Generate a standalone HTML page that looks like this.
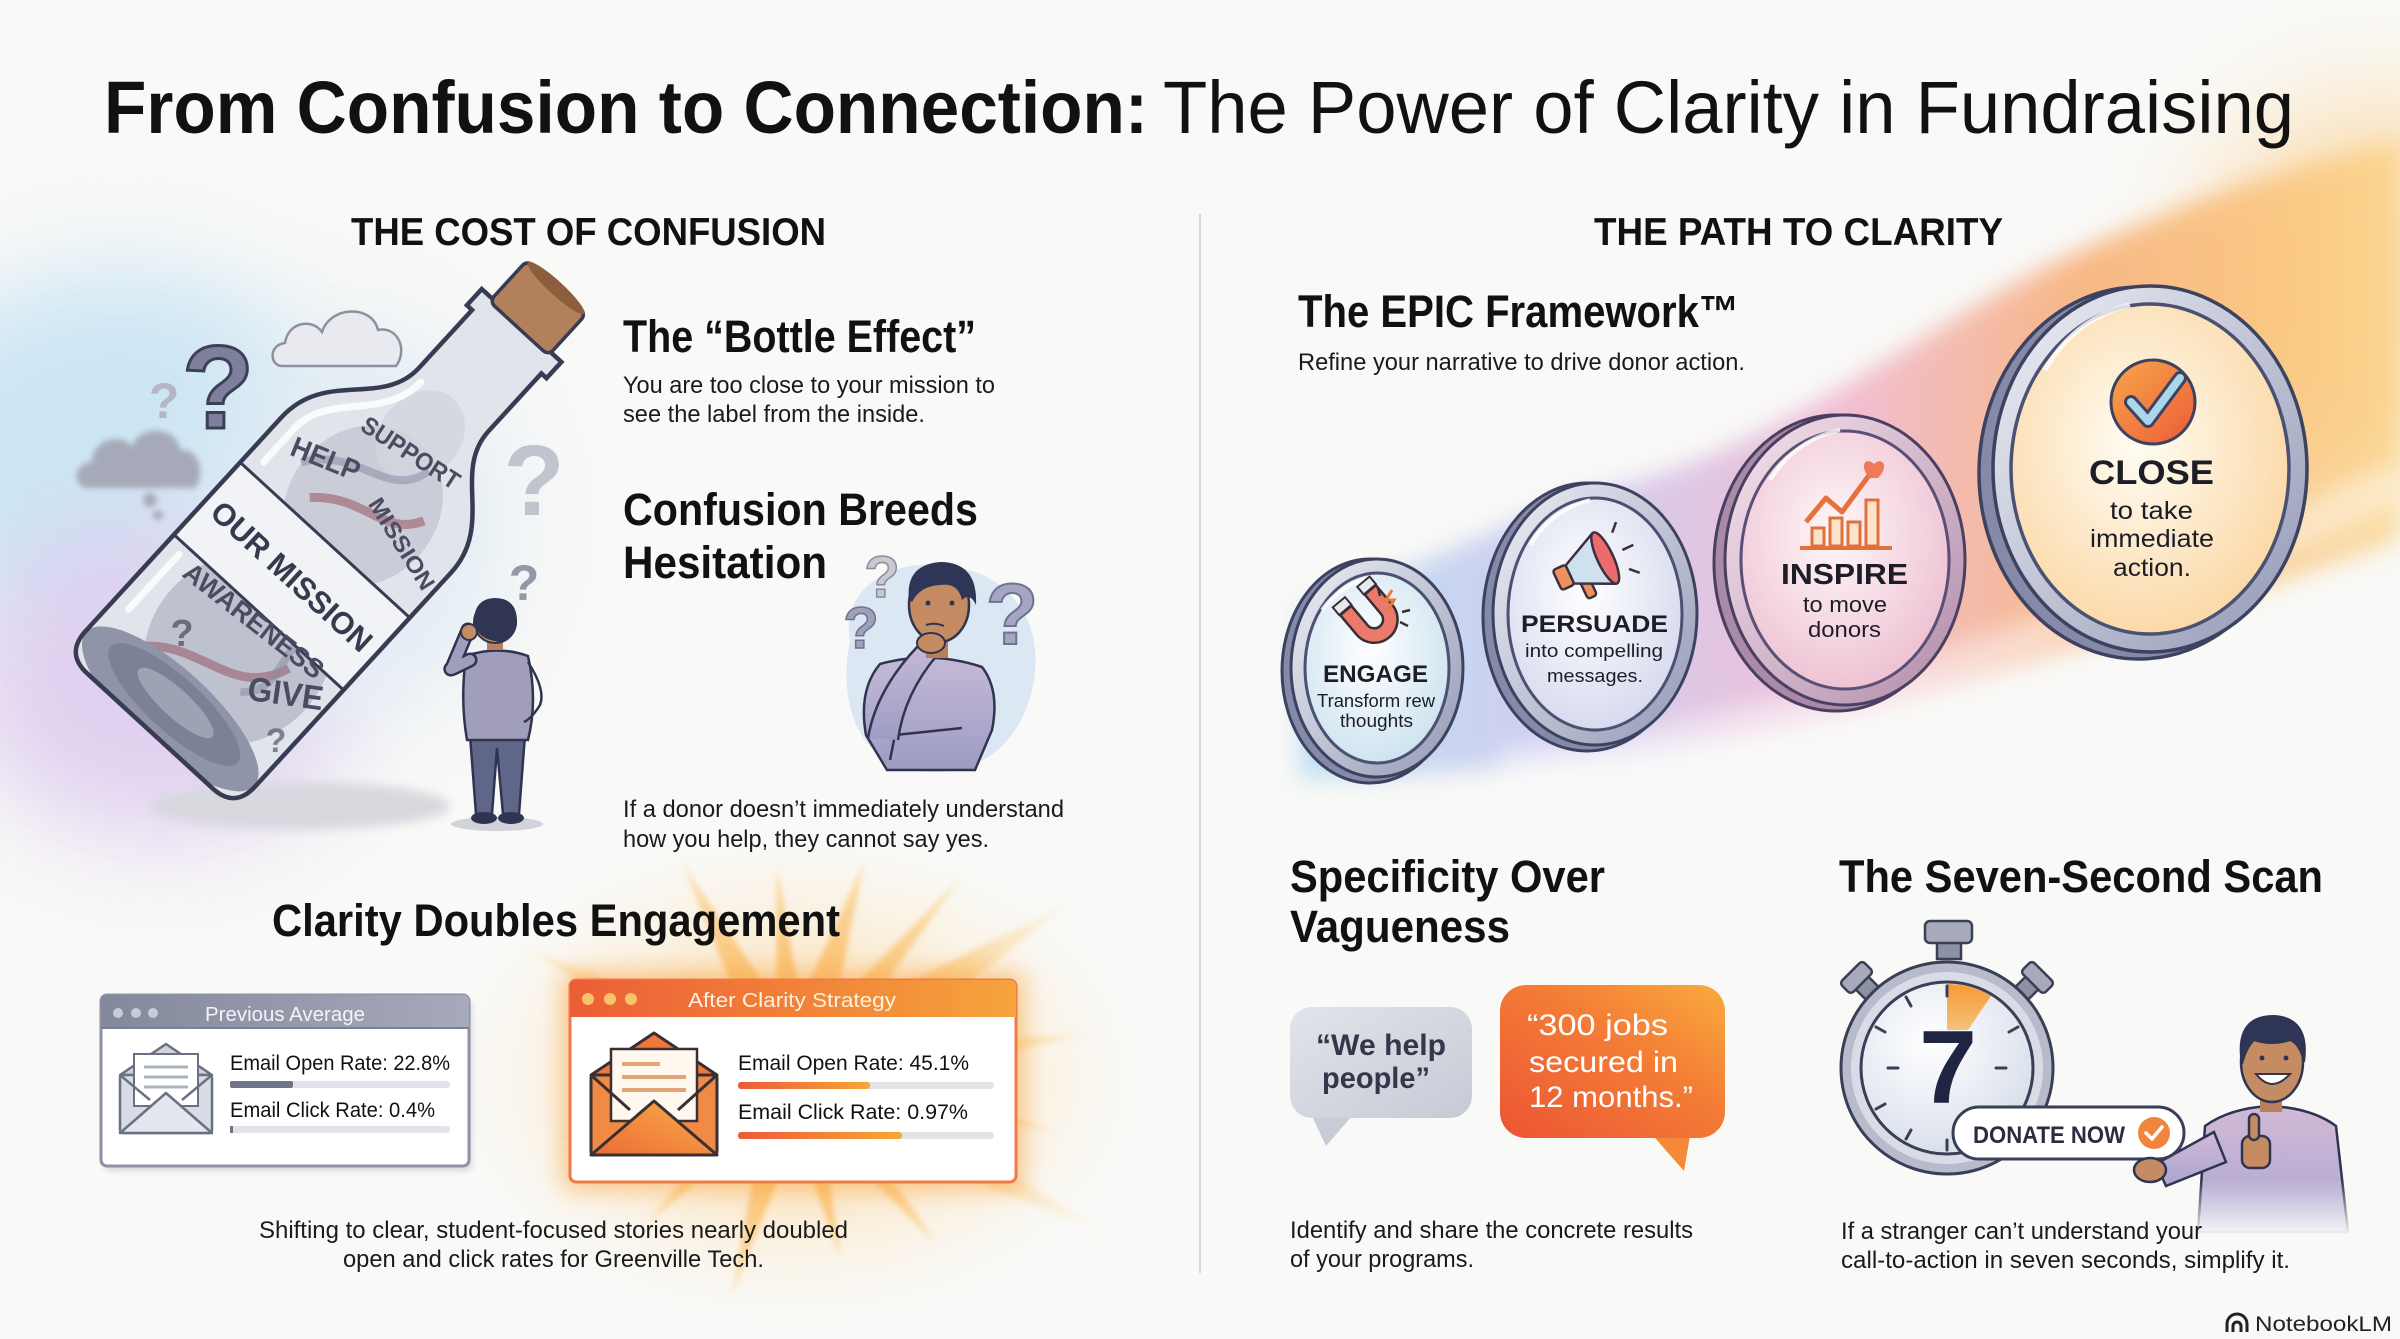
<!DOCTYPE html>
<html><head><meta charset="utf-8"><title>From Confusion to Connection</title>
<style>
html,body{margin:0;padding:0;background:#f9f9f7;width:2400px;height:1339px;overflow:hidden}
svg{display:block}
text{font-family:"Liberation Sans",Arial,sans-serif}
</style></head><body>
<svg xmlns="http://www.w3.org/2000/svg" width="2400" height="1339" viewBox="0 0 2400 1339">
<defs>
<filter id="b50" x="-60%" y="-60%" width="220%" height="220%"><feGaussianBlur stdDeviation="50"/></filter>
<filter id="b25" x="-50%" y="-50%" width="200%" height="200%"><feGaussianBlur stdDeviation="25"/></filter>
<filter id="b12" x="-50%" y="-50%" width="200%" height="200%"><feGaussianBlur stdDeviation="12"/></filter>
<filter id="b5" x="-50%" y="-50%" width="200%" height="200%"><feGaussianBlur stdDeviation="5"/></filter>
<filter id="b3" x="-50%" y="-50%" width="200%" height="200%"><feGaussianBlur stdDeviation="3"/></filter>
<linearGradient id="ribbon" x1="1290" y1="0" x2="2400" y2="0" gradientUnits="userSpaceOnUse">
<stop offset="0" stop-color="#9fd3ee"/><stop offset="0.27" stop-color="#c2b7ec"/><stop offset="0.5" stop-color="#eda2c2"/><stop offset="0.72" stop-color="#f79a4e"/><stop offset="1" stop-color="#fbd07a"/>
</linearGradient>
<radialGradient id="rayG" cx="0" cy="0" r="360" gradientUnits="userSpaceOnUse">
<stop offset="0" stop-color="#f89a30" stop-opacity="0.95"/><stop offset="0.55" stop-color="#fbbf5c" stop-opacity="0.65"/><stop offset="1" stop-color="#fde2b0" stop-opacity="0"/>
</radialGradient>
<radialGradient id="glowG" cx="0.5" cy="0.5" r="0.5">
<stop offset="0" stop-color="#fbbf5e" stop-opacity="0.95"/><stop offset="1" stop-color="#fde6c0" stop-opacity="0"/>
</radialGradient>
<linearGradient id="prevBar" x1="0" y1="0" x2="1" y2="0"><stop offset="0" stop-color="#83889b"/><stop offset="1" stop-color="#a6aaba"/></linearGradient>
<linearGradient id="afterBar" x1="0" y1="0" x2="1" y2="0"><stop offset="0" stop-color="#ee5a3a"/><stop offset="1" stop-color="#f6a835"/></linearGradient>
<linearGradient id="orangeFill" x1="0" y1="0" x2="1" y2="0"><stop offset="0" stop-color="#ec5d36"/><stop offset="1" stop-color="#f6a43c"/></linearGradient>
<linearGradient id="envO" x1="0" y1="1" x2="1" y2="0"><stop offset="0" stop-color="#ee6a35"/><stop offset="1" stop-color="#f7b04a"/></linearGradient>
<linearGradient id="bubO" x1="0" y1="1" x2="1" y2="0"><stop offset="0" stop-color="#ec5534"/><stop offset="0.6" stop-color="#f47e36"/><stop offset="1" stop-color="#f9ab3e"/></linearGradient>
<linearGradient id="bubG" x1="0" y1="0" x2="1" y2="1"><stop offset="0" stop-color="#e1e4ea"/><stop offset="1" stop-color="#c6cad5"/></linearGradient>
<linearGradient id="rim" x1="0" y1="0" x2="1" y2="1"><stop offset="0" stop-color="#eef0f6"/><stop offset="1" stop-color="#9298b4"/></linearGradient>
<linearGradient id="rimI" x1="0" y1="0" x2="1" y2="1"><stop offset="0" stop-color="#f6e4ee"/><stop offset="1" stop-color="#b08ba8"/></linearGradient>
<radialGradient id="faceE" cx="0.45" cy="0.4" r="0.6"><stop offset="0" stop-color="#ffffff"/><stop offset="1" stop-color="#cfe4f0"/></radialGradient>
<radialGradient id="faceP" cx="0.45" cy="0.4" r="0.6"><stop offset="0" stop-color="#ffffff"/><stop offset="1" stop-color="#d8dbef"/></radialGradient>
<radialGradient id="faceI" cx="0.45" cy="0.4" r="0.6"><stop offset="0" stop-color="#fff7f8"/><stop offset="1" stop-color="#eec3d4"/></radialGradient>
<radialGradient id="faceC" cx="0.45" cy="0.42" r="0.6"><stop offset="0" stop-color="#fffdf4"/><stop offset="1" stop-color="#fbd8a6"/></radialGradient>
<linearGradient id="chk" x1="0" y1="0" x2="1" y2="1"><stop offset="0" stop-color="#f8a84a"/><stop offset="1" stop-color="#ec5a38"/></linearGradient>
<linearGradient id="shirt" x1="0" y1="0" x2="0" y2="1"><stop offset="0" stop-color="#c4b9d6"/><stop offset="1" stop-color="#9e9cc4"/></linearGradient>
<linearGradient id="shirtR" x1="0" y1="0" x2="0" y2="1"><stop offset="0" stop-color="#d2b9d6"/><stop offset="1" stop-color="#a9a6d0"/></linearGradient>
<linearGradient id="fadeW" x1="0" y1="0" x2="0" y2="1"><stop offset="0" stop-color="#f9f9f7" stop-opacity="0"/><stop offset="1" stop-color="#f9f9f7" stop-opacity="1"/></linearGradient>
<radialGradient id="watch" cx="0.4" cy="0.35" r="0.7"><stop offset="0" stop-color="#ffffff"/><stop offset="1" stop-color="#d7deea"/></radialGradient>
<linearGradient id="wedge" x1="0" y1="0" x2="0" y2="1"><stop offset="0" stop-color="#f69a36"/><stop offset="1" stop-color="#f3c27a"/></linearGradient>
<clipPath id="bclip"><path d="M30,-115 L320,-115 C385,-115 395,-47 450,-47 L528,-47 L528,-54 L550,-54 L550,54 L528,54 L528,47 L450,47 C395,47 385,115 320,115 L30,115 Q0,115 0,85 L0,-85 Q0,-115 30,-115 Z"/></clipPath>
</defs>

<rect x="0" y="0" width="2400" height="1339" fill="#f9f9f7"/>

<!-- left background glow -->
<g filter="url(#b50)" opacity="0.95">
<ellipse cx="120" cy="470" rx="240" ry="200" fill="#c9e4f4"/>
<ellipse cx="160" cy="680" rx="200" ry="160" fill="#dfcff0"/>
<ellipse cx="360" cy="520" rx="150" ry="200" fill="#e2ecf4"/>
</g>

<!-- top right glow -->
<ellipse cx="2380" cy="280" rx="190" ry="190" fill="#fbcf8c" opacity="0.55" filter="url(#b50)"/>

<!-- ribbon -->
<path d="M1300,610 C1420,570 1520,510 1640,480 C1780,440 1900,345 2040,270 C2180,200 2300,165 2400,140 L2400,540 C2300,575 2180,615 2060,650 C1920,690 1780,730 1640,752 C1520,768 1400,778 1300,778 Z" fill="url(#ribbon)" opacity="0.68" filter="url(#b12)"/>
<path d="M1500,770 C1800,730 2100,630 2400,480" fill="none" stroke="#ffffff" stroke-width="40" opacity="0.45" filter="url(#b12)"/>

<!-- sunburst -->
<ellipse cx="795" cy="1078" rx="340" ry="240" fill="url(#glowG)" opacity="0.85"/>
<g transform="translate(795,1075)" opacity="0.82" filter="url(#b3)">
<polygon points="50,-22 300,0 50,22" fill="url(#rayG)" transform="rotate(-155)"/>
<polygon points="50,-20 240,0 50,20" fill="url(#rayG)" transform="rotate(-118)"/>
<polygon points="50,-14 210,0 50,14" fill="url(#rayG)" transform="rotate(-95)"/>
<polygon points="50,-20 225,0 50,20" fill="url(#rayG)" transform="rotate(-72)"/>
<polygon points="50,-16 260,0 50,16" fill="url(#rayG)" transform="rotate(-50)"/>
<polygon points="50,-28 330,0 50,28" fill="url(#rayG)" transform="rotate(-32)"/>
<polygon points="50,-20 300,0 50,20" fill="url(#rayG)" transform="rotate(-8)"/>
<polygon points="50,-16 270,0 50,16" fill="url(#rayG)" transform="rotate(12)"/>
<polygon points="50,-26 360,0 50,26" fill="url(#rayG)" transform="rotate(27)"/>
<polygon points="50,-16 220,0 50,16" fill="url(#rayG)" transform="rotate(50)"/>
<polygon points="50,-14 190,0 50,14" fill="url(#rayG)" transform="rotate(76)"/>
<polygon points="50,-18 230,0 50,18" fill="url(#rayG)" transform="rotate(106)"/>
<polygon points="50,-14 210,0 50,14" fill="url(#rayG)" transform="rotate(135)"/>
<polygon points="50,-16 250,0 50,16" fill="url(#rayG)" transform="rotate(165)"/>
</g>

<!-- divider -->
<line x1="1200" y1="214" x2="1200" y2="1273" stroke="#d6d6d6" stroke-width="2"/>

<!-- TITLE -->
<text x="104" y="133" font-size="74" font-weight="700" fill="#111" textLength="1044" lengthAdjust="spacingAndGlyphs">From Confusion to Connection:</text>
<text x="1163" y="133" font-size="74" fill="#111" textLength="1131" lengthAdjust="spacingAndGlyphs">The Power of Clarity in Fundraising</text>

<!-- section headers -->
<text x="351" y="245" font-size="39" font-weight="700" fill="#111" textLength="475" lengthAdjust="spacingAndGlyphs">THE COST OF CONFUSION</text>
<text x="1594" y="245" font-size="39" font-weight="700" fill="#111" textLength="409" lengthAdjust="spacingAndGlyphs">THE PATH TO CLARITY</text>

<!-- ================= BOTTLE ================= -->
<ellipse cx="300" cy="806" rx="150" ry="24" fill="#d8d8df" filter="url(#b5)"/>

<!-- clouds -->
<g fill="#e9eaef" stroke="#8d90a0" stroke-width="2.5">
<path d="M282,366 C270,366 268,345 285,343 C288,322 312,318 322,332 C330,306 372,304 378,330 C398,326 408,350 396,366 Z"/>
</g>
<g fill="#a2a4b2" opacity="0.9" filter="url(#b3)">
<path d="M86,488 C72,486 74,462 92,462 C92,440 120,432 132,446 C140,424 178,426 180,450 C198,448 206,470 196,488 Z"/>
<circle cx="150" cy="500" r="7"/>
<circle cx="158" cy="515" r="5"/>
</g>

<!-- question marks near bottle -->
<text x="218" y="428" font-size="118" font-weight="700" fill="#7d7f9c" stroke="#3c3f56" stroke-width="3" text-anchor="middle">?</text>
<text x="164" y="418" font-size="50" font-weight="700" fill="#b4b6c6" text-anchor="middle">?</text>
<text x="534" y="515" font-size="100" font-weight="700" fill="#b9bbc7" text-anchor="middle" opacity="0.85">?</text>
<text x="524" y="600" font-size="50" font-weight="700" fill="#9597a8" text-anchor="middle">?</text>

<g transform="translate(150,731) rotate(-47.5)">
<path d="M30,-115 L320,-115 C385,-115 395,-47 450,-47 L528,-47 L528,-54 L550,-54 L550,54 L528,54 L528,47 L450,47 C395,47 385,115 320,115 L30,115 Q0,115 0,85 L0,-85 Q0,-115 30,-115 Z" fill="#e1e4eb"/>
<g clip-path="url(#bclip)">
<ellipse cx="120" cy="10" rx="100" ry="90" fill="#b5b9c8" opacity="0.8"/>
<ellipse cx="310" cy="5" rx="85" ry="75" fill="#c4c7d3" opacity="0.8"/>
<ellipse cx="400" cy="0" rx="50" ry="40" fill="#d2d5de" opacity="0.8"/>
<path d="M60,-60 C100,-20 80,40 140,60 M280,-40 C320,0 300,40 340,60" stroke="#9b5d6d" stroke-width="9" fill="none" opacity="0.6"/>
<path d="M300,-70 C350,-40 330,20 380,30 M90,40 C120,80 170,20 200,70" stroke="#8a8ea2" stroke-width="8" fill="none" opacity="0.55"/>
<ellipse cx="30" cy="0" rx="40" ry="114" fill="#8f94a8"/>
<ellipse cx="36" cy="0" rx="27" ry="86" fill="#7c8197"/>
<ellipse cx="38" cy="0" rx="14" ry="50" fill="#9da2b5"/>
<rect x="161" y="-120" width="98" height="240" fill="#f2f3f6"/>
</g>
<line x1="161" y1="-115" x2="161" y2="115" stroke="#383c52" stroke-width="3"/>
<line x1="259" y1="-115" x2="259" y2="115" stroke="#383c52" stroke-width="3"/>
<path d="M30,-115 L320,-115 C385,-115 395,-47 450,-47 L528,-47 L528,-54 L550,-54 L550,54 L528,54 L528,47 L450,47 C395,47 385,115 320,115 L30,115 Q0,115 0,85 L0,-85 Q0,-115 30,-115 Z" fill="none" stroke="#383c52" stroke-width="4.5"/>
<path d="M75,-98 L150,-98 M275,-98 L320,-98 C370,-98 385,-38 440,-36" stroke="#ffffff" stroke-width="7" fill="none" stroke-linecap="round" opacity="0.8"/>
<rect x="546" y="-40" width="56" height="80" rx="7" fill="#b2805a" stroke="#383c52" stroke-width="3.5"/>
<ellipse cx="601" cy="0" rx="7" ry="38" fill="#8c5e3e"/>
<text transform="translate(210,0) rotate(90)" x="0" y="11" font-size="31" font-weight="700" fill="#363a4e" text-anchor="middle" textLength="206" lengthAdjust="spacingAndGlyphs">OUR MISSION</text>
</g>
<!-- words inside bottle -->
<g font-weight="700" fill="#4a4d61" text-anchor="middle">
<text transform="translate(406,460) rotate(33)" font-size="25" textLength="112" lengthAdjust="spacingAndGlyphs">SUPPORT</text>
<text transform="translate(322,468) rotate(22)" font-size="29" textLength="72" lengthAdjust="spacingAndGlyphs">HELP</text>
<text transform="translate(395,548) rotate(58)" font-size="23" textLength="104" lengthAdjust="spacingAndGlyphs">MISSION</text>
<text transform="translate(248,628) rotate(38)" font-size="27" textLength="170" lengthAdjust="spacingAndGlyphs">AWARENESS</text>
<text transform="translate(284,705) rotate(8)" font-size="34" textLength="76" lengthAdjust="spacingAndGlyphs">GIVE</text>
</g>
<text x="182" y="646" font-size="38" font-weight="700" fill="#55586b" text-anchor="middle" opacity="0.8">?</text>
<text x="276" y="752" font-size="34" font-weight="700" fill="#55586b" text-anchor="middle" opacity="0.7">?</text>

<!-- standing man (back view) -->
<ellipse cx="497" cy="824" rx="46" ry="7" fill="#d2d3da"/>
<path d="M470,735 L476,814 L492,814 L497,748 L503,814 L519,814 L525,735 Z" fill="#5f6688" stroke="#2f3450" stroke-width="2.5"/>
<ellipse cx="484" cy="818" rx="13" ry="6" fill="#2f3450"/>
<ellipse cx="511" cy="818" rx="13" ry="6" fill="#2f3450"/>
<path d="M466,656 Q497,645 528,656 Q538,700 528,740 L467,740 Q460,700 466,656 Z" fill="#a09ebb" stroke="#2f3450" stroke-width="2.5"/>
<path d="M528,662 Q546,690 540,705 Q532,718 524,722" fill="none" stroke="#2f3450" stroke-width="2.5"/>
<path d="M470,660 Q446,672 452,668 L468,630" fill="none" stroke="#2f3450" stroke-width="15" stroke-linecap="round"/>
<path d="M470,660 Q446,672 452,668 L468,630" fill="none" stroke="#a09ebb" stroke-width="10" stroke-linecap="round"/>
<rect x="487" y="636" width="16" height="14" fill="#b9805b"/>
<circle cx="495" cy="622" r="21" fill="#c48c64" stroke="#2f3450" stroke-width="2"/>
<path d="M474,622 Q474,598 496,598 Q518,599 517,624 Q514,640 500,642 Q484,640 478,632 Z" fill="#2f3552"/>
<circle cx="469" cy="632" r="8" fill="#c48c64" stroke="#2f3450" stroke-width="2"/>

<!-- texts left column -->
<text x="623" y="352" font-size="45" font-weight="700" fill="#111" textLength="353" lengthAdjust="spacingAndGlyphs">The “Bottle Effect”</text>
<text x="623" y="393" font-size="24" fill="#1a1a1a" textLength="372" lengthAdjust="spacingAndGlyphs">You are too close to your mission to</text>
<text x="623" y="422" font-size="24" fill="#1a1a1a" textLength="302" lengthAdjust="spacingAndGlyphs">see the label from the inside.</text>
<text x="623" y="525" font-size="45" font-weight="700" fill="#111" textLength="355" lengthAdjust="spacingAndGlyphs">Confusion Breeds</text>
<text x="623" y="578" font-size="45" font-weight="700" fill="#111" textLength="204" lengthAdjust="spacingAndGlyphs">Hesitation</text>
<text x="623" y="817" font-size="24" fill="#1a1a1a" textLength="441" lengthAdjust="spacingAndGlyphs">If a donor doesn’t immediately understand</text>
<text x="623" y="847" font-size="24" fill="#1a1a1a" textLength="366" lengthAdjust="spacingAndGlyphs">how you help, they cannot say yes.</text>

<!-- thinking man -->
<path d="M850,640 C840,590 890,560 940,565 C1000,568 1040,610 1035,670 C1030,730 990,775 930,772 C870,770 835,720 850,640 Z" fill="#dbe7f2"/>
<path d="M880,664 Q930,650 982,667 Q1000,690 992,730 L975,770 L887,770 L866,735 Q858,690 880,664 Z" fill="url(#shirt)" stroke="#2f3450" stroke-width="2.5"/>
<path d="M890,760 L895,735 L962,728" fill="none" stroke="#2f3450" stroke-width="2.5"/>
<path d="M868,738 Q876,690 918,646 L938,654 Q904,694 898,740" fill="url(#shirt)" stroke="#2f3450" stroke-width="2.5"/>
<rect x="926" y="636" width="22" height="22" fill="#b97f58"/>
<ellipse cx="939" cy="605" rx="30" ry="37" fill="#c58b63" stroke="#2f3450" stroke-width="2.5"/>
<path d="M909,600 Q905,565 940,562 Q978,562 976,605 Q970,592 962,600 Q958,582 940,585 Q920,586 912,602 Z" fill="#2e3556"/>
<ellipse cx="931" cy="643" rx="14" ry="10" fill="#c58b63" stroke="#2f3450" stroke-width="2"/>
<path d="M926,625 Q935,622 944,626" fill="none" stroke="#2f3450" stroke-width="2"/>
<circle cx="928" cy="603" r="2.5" fill="#2f3450"/><circle cx="952" cy="603" r="2.5" fill="#2f3450"/>
<text x="882" y="597" font-size="58" font-weight="700" fill="#c8c9d1" stroke="#8a8c9c" stroke-width="1.5" text-anchor="middle">?</text>
<text x="861" y="648" font-size="58" font-weight="700" fill="#9ea1b8" stroke="#6f7290" stroke-width="1.5" text-anchor="middle">?</text>
<text x="1012" y="644" font-size="86" font-weight="700" fill="#a6a5c4" stroke="#6f7290" stroke-width="2" text-anchor="middle">?</text>

<!-- Clarity doubles engagement -->
<text x="272" y="936" font-size="45" font-weight="700" fill="#111" textLength="568" lengthAdjust="spacingAndGlyphs">Clarity Doubles Engagement</text>

<!-- Previous window -->
<rect x="104" y="1000" width="368" height="171" rx="6" fill="#d7d8de" filter="url(#b3)"/>
<rect x="101" y="995" width="368" height="171" rx="6" fill="#ffffff" stroke="#8e92a4" stroke-width="3"/>
<path d="M101,1028 L101,1001 Q101,995 107,995 L463,995 Q469,995 469,1001 L469,1028 Z" fill="url(#prevBar)"/>
<line x1="101" y1="1028" x2="469" y2="1028" stroke="#7b8093" stroke-width="2"/>
<circle cx="118" cy="1013" r="5" fill="#c9cbd5"/><circle cx="136" cy="1013" r="5" fill="#c9cbd5"/><circle cx="153" cy="1013" r="5" fill="#c9cbd5"/>
<text x="205" y="1021" font-size="20" fill="#f3f4f8" textLength="160" lengthAdjust="spacingAndGlyphs">Previous Average</text>
<!-- gray envelope -->
<path d="M120,1075 L166,1044 L212,1075 Z" fill="#cfd2dc" stroke="#6b7084" stroke-width="2.5" stroke-linejoin="round"/>
<rect x="120" y="1075" width="92" height="58" rx="3" fill="#d9dce4" stroke="#6b7084" stroke-width="2.5"/>
<rect x="134" y="1054" width="64" height="52" fill="#ffffff" stroke="#6b7084" stroke-width="2"/>
<line x1="144" y1="1067" x2="188" y2="1067" stroke="#a9b5bd" stroke-width="3"/>
<line x1="144" y1="1077" x2="188" y2="1077" stroke="#a9b5bd" stroke-width="3"/>
<line x1="144" y1="1087" x2="188" y2="1087" stroke="#a9b5bd" stroke-width="3"/>
<path d="M120,1133 L166,1093 L212,1133 Z" fill="#e5e7ee" stroke="#6b7084" stroke-width="2.5" stroke-linejoin="round"/>
<path d="M120,1075 L150,1100 M212,1075 L182,1100" stroke="#6b7084" stroke-width="2.5"/>
<text x="230" y="1070" font-size="21" fill="#111" textLength="220" lengthAdjust="spacingAndGlyphs">Email Open Rate: 22.8%</text>
<rect x="230" y="1081" width="220" height="7" rx="3" fill="#e2e3e8"/>
<rect x="230" y="1081" width="63" height="7" rx="2" fill="#6f7386"/>
<text x="230" y="1117" font-size="21" fill="#111" textLength="205" lengthAdjust="spacingAndGlyphs">Email Click Rate: 0.4%</text>
<rect x="230" y="1126" width="220" height="7" rx="3" fill="#e2e3e8"/>
<rect x="230" y="1126" width="3" height="7" fill="#6f7386"/>

<!-- After window -->
<rect x="562" y="972" width="462" height="218" rx="10" fill="#f9a84a" opacity="0.6" filter="url(#b12)"/>
<rect x="570" y="980" width="446" height="202" rx="6" fill="#ffffff" stroke="#ee7a4a" stroke-width="3"/>
<path d="M570,1017 L570,986 Q570,980 576,980 L1010,980 Q1016,980 1016,986 L1016,1017 Z" fill="url(#orangeFill)"/>
<circle cx="588" cy="999" r="6" fill="#f9c36c"/><circle cx="610" cy="999" r="6" fill="#f9c36c"/><circle cx="631" cy="999" r="6" fill="#f9c36c"/>
<text x="688" y="1007" font-size="20" fill="#fff1dc" textLength="208" lengthAdjust="spacingAndGlyphs">After Clarity Strategy</text>
<!-- orange envelope -->
<path d="M591,1075 L654,1033 L717,1075 Z" fill="#f0783a" stroke="#3a2f33" stroke-width="3" stroke-linejoin="round"/>
<rect x="591" y="1075" width="126" height="80" rx="3" fill="#f08a45" stroke="#3a2f33" stroke-width="3"/>
<rect x="611" y="1049" width="86" height="72" fill="#fff8ee" stroke="#3a2f33" stroke-width="2.5"/>
<line x1="622" y1="1064" x2="660" y2="1064" stroke="#e3a577" stroke-width="4"/>
<line x1="622" y1="1077" x2="686" y2="1077" stroke="#e3a577" stroke-width="4"/>
<line x1="622" y1="1090" x2="686" y2="1090" stroke="#e3a577" stroke-width="4"/>
<path d="M591,1155 L654,1101 L717,1155 Z" fill="url(#envO)" stroke="#3a2f33" stroke-width="3" stroke-linejoin="round"/>
<path d="M591,1075 L630,1110 M717,1075 L678,1110" stroke="#3a2f33" stroke-width="3"/>
<text x="738" y="1070" font-size="21" fill="#111" textLength="231" lengthAdjust="spacingAndGlyphs">Email Open Rate: 45.1%</text>
<rect x="738" y="1082" width="256" height="7" rx="3" fill="#e4e4e8"/>
<rect x="738" y="1082" width="132" height="7" rx="3" fill="url(#afterBar)"/>
<text x="738" y="1119" font-size="21" fill="#111" textLength="230" lengthAdjust="spacingAndGlyphs">Email Click Rate: 0.97%</text>
<rect x="738" y="1132" width="256" height="7" rx="3" fill="#e4e4e8"/>
<rect x="738" y="1132" width="164" height="7" rx="3" fill="url(#afterBar)"/>

<text x="259" y="1238" font-size="24" fill="#1a1a1a" textLength="589" lengthAdjust="spacingAndGlyphs">Shifting to clear, student-focused stories nearly doubled</text>
<text x="343" y="1267" font-size="24" fill="#1a1a1a" textLength="421" lengthAdjust="spacingAndGlyphs">open and click rates for Greenville Tech.</text>

<!-- ================= RIGHT ================= -->
<text x="1298" y="327" font-size="45" font-weight="700" fill="#111" textLength="441" lengthAdjust="spacingAndGlyphs">The EPIC Framework™</text>
<text x="1298" y="370" font-size="24" fill="#1a1a1a" textLength="447" lengthAdjust="spacingAndGlyphs">Refine your narrative to drive donor action.</text>

<!-- ENGAGE disc -->
<ellipse cx="1370" cy="671" rx="88" ry="112" fill="#858aa8" stroke="#3d4260" stroke-width="3"/>
<ellipse cx="1377" cy="668" rx="86" ry="109" fill="url(#rim)" stroke="#3d4260" stroke-width="3"/>
<ellipse cx="1377" cy="668" rx="72" ry="95" fill="url(#faceE)" stroke="#4b5173" stroke-width="3"/>
<path d="M1322,610 Q1340,585 1370,578" stroke="#ffffff" stroke-width="4" fill="none" opacity="0.8"/>
<!-- magnet -->
<g transform="translate(1373,618) rotate(-40)">
<path d="M-16,-24 L-16,2 A16,16 0 0 0 16,2 L16,-24" fill="none" stroke="#3a2e35" stroke-width="17"/>
<path d="M-16,-22 L-16,2 A16,16 0 0 0 16,2 L16,-22" fill="none" stroke="#ec7a6c" stroke-width="12"/>
<rect x="-24" y="-34" width="16" height="10" fill="#e8e9ef" stroke="#3a2e35" stroke-width="2"/>
<rect x="8" y="-34" width="16" height="10" fill="#e8e9ef" stroke="#3a2e35" stroke-width="2"/>
</g>
<path d="M1392,590 L1386,600 L1394,600 L1388,610" fill="none" stroke="#e8783c" stroke-width="3"/>
<path d="M1378,588 L1380,596 M1402,612 L1410,610 M1400,622 L1408,626" stroke="#3a2e35" stroke-width="2.5"/>
<text x="1323" y="682" font-size="24" font-weight="700" fill="#1d1d28" textLength="105" lengthAdjust="spacingAndGlyphs">ENGAGE</text>
<text x="1317" y="707" font-size="18" fill="#1d1d28" textLength="118" lengthAdjust="spacingAndGlyphs">Transform rew</text>
<text x="1340" y="727" font-size="18" fill="#1d1d28" textLength="73" lengthAdjust="spacingAndGlyphs">thoughts</text>

<!-- PERSUADE disc -->
<ellipse cx="1587" cy="617" rx="104" ry="134" fill="#858aa8" stroke="#3d4260" stroke-width="3"/>
<ellipse cx="1595" cy="614" rx="102" ry="131" fill="url(#rim)" stroke="#3d4260" stroke-width="3"/>
<ellipse cx="1595" cy="614" rx="87" ry="116" fill="url(#faceP)" stroke="#4b5173" stroke-width="3"/>
<path d="M1530,545 Q1552,510 1590,500" stroke="#ffffff" stroke-width="4" fill="none" opacity="0.8"/>
<!-- megaphone -->
<g transform="translate(1588,566) rotate(-25)">
<rect x="-14" y="6" width="10" height="24" rx="3" fill="#f0905a" stroke="#3a3040" stroke-width="2.5"/>
<polygon points="-22,-9 18,-28 18,28 -22,9" fill="#cfe0ee" stroke="#3a3040" stroke-width="2.5" stroke-linejoin="round"/>
<ellipse cx="19" cy="0" rx="8" ry="28" fill="#ec6b6e" stroke="#3a3040" stroke-width="2.5"/>
<rect x="-34" y="-11" width="14" height="22" rx="3" fill="#f0905a" stroke="#3a3040" stroke-width="2.5"/>
<path d="M36,-20 L44,-28 M38,0 L50,0 M36,20 L44,28" stroke="#3a3040" stroke-width="2.5"/>
</g>
<text x="1521" y="632" font-size="24" font-weight="700" fill="#1d1d28" textLength="147" lengthAdjust="spacingAndGlyphs">PERSUADE</text>
<text x="1525" y="657" font-size="18" fill="#1d1d28" textLength="138" lengthAdjust="spacingAndGlyphs">into compelling</text>
<text x="1547" y="682" font-size="18" fill="#1d1d28" textLength="96" lengthAdjust="spacingAndGlyphs">messages.</text>

<!-- INSPIRE disc -->
<ellipse cx="1836" cy="563" rx="122" ry="148" fill="#a98aa8" stroke="#4a3f60" stroke-width="3"/>
<ellipse cx="1845" cy="560" rx="120" ry="145" fill="url(#rimI)" stroke="#4a3f60" stroke-width="3"/>
<ellipse cx="1845" cy="560" rx="104" ry="129" fill="url(#faceI)" stroke="#5a4f75" stroke-width="3"/>
<path d="M1770,480 Q1795,440 1840,430" stroke="#ffffff" stroke-width="4" fill="none" opacity="0.8"/>
<!-- chart -->
<g stroke="#e0703c" stroke-width="3" fill="#fde3cc">
<rect x="1812" y="528" width="12" height="18"/>
<rect x="1830" y="518" width="12" height="28"/>
<rect x="1848" y="522" width="12" height="24"/>
<rect x="1866" y="500" width="12" height="46"/>
</g>
<line x1="1800" y1="548" x2="1892" y2="548" stroke="#e0703c" stroke-width="4"/>
<polyline points="1806,522 1826,498 1842,512 1870,474" fill="none" stroke="#e8703c" stroke-width="5" stroke-linejoin="round"/>
<path d="M1870,478 C1858,466 1866,456 1874,464 C1882,456 1890,466 1878,478 Z" fill="#ee7a5a"/>
<text x="1781" y="584" font-size="29" font-weight="700" fill="#1d1d28" textLength="127" lengthAdjust="spacingAndGlyphs">INSPIRE</text>
<text x="1803" y="612" font-size="22" fill="#1d1d28" textLength="84" lengthAdjust="spacingAndGlyphs">to move</text>
<text x="1808" y="637" font-size="22" fill="#1d1d28" textLength="73" lengthAdjust="spacingAndGlyphs">donors</text>

<!-- CLOSE disc -->
<ellipse cx="2139" cy="473" rx="160" ry="186" fill="#858aa8" stroke="#3d4260" stroke-width="3.5"/>
<ellipse cx="2150" cy="469" rx="157" ry="183" fill="url(#rim)" stroke="#3d4260" stroke-width="3.5"/>
<ellipse cx="2150" cy="469" rx="139" ry="165" fill="url(#faceC)" stroke="#4b5173" stroke-width="3.5"/>
<path d="M2045,370 Q2075,318 2130,305" stroke="#ffffff" stroke-width="5" fill="none" opacity="0.8"/>
<circle cx="2153" cy="402" r="42" fill="url(#chk)" stroke="#3d4260" stroke-width="3"/>
<polyline points="2131,402 2148,421 2180,378" fill="none" stroke="#3d4260" stroke-width="14" stroke-linecap="round" stroke-linejoin="round"/>
<polyline points="2131,402 2148,421 2180,378" fill="none" stroke="#a9d6e8" stroke-width="8" stroke-linecap="round" stroke-linejoin="round"/>
<text x="2089" y="484" font-size="34" font-weight="700" fill="#1d1d28" textLength="125" lengthAdjust="spacingAndGlyphs">CLOSE</text>
<text x="2110" y="519" font-size="25" fill="#1d1d28" textLength="83" lengthAdjust="spacingAndGlyphs">to take</text>
<text x="2090" y="547" font-size="25" fill="#1d1d28" textLength="124" lengthAdjust="spacingAndGlyphs">immediate</text>
<text x="2113" y="576" font-size="25" fill="#1d1d28" textLength="78" lengthAdjust="spacingAndGlyphs">action.</text>

<!-- Specificity -->
<text x="1290" y="892" font-size="45" font-weight="700" fill="#111" textLength="315" lengthAdjust="spacingAndGlyphs">Specificity Over</text>
<text x="1290" y="942" font-size="45" font-weight="700" fill="#111" textLength="220" lengthAdjust="spacingAndGlyphs">Vagueness</text>
<path d="M1312,1116 L1326,1146 L1352,1116 Z" fill="#c9ccd7"/>
<rect x="1290" y="1007" width="182" height="111" rx="22" fill="url(#bubG)"/>
<text x="1381" y="1055" font-size="30" font-weight="700" fill="#34374a" text-anchor="middle" textLength="130" lengthAdjust="spacingAndGlyphs">“We help</text>
<text x="1376" y="1088" font-size="30" font-weight="700" fill="#34374a" text-anchor="middle" textLength="108" lengthAdjust="spacingAndGlyphs">people”</text>
<path d="M1648,1130 L1684,1171 L1692,1124 Z" fill="#f48a38"/>
<rect x="1500" y="985" width="225" height="153" rx="26" fill="url(#bubO)"/>
<text x="1527" y="1035" font-size="30" fill="#ffffff" textLength="141" lengthAdjust="spacingAndGlyphs">“300 jobs</text>
<text x="1529" y="1072" font-size="30" fill="#ffffff" textLength="149" lengthAdjust="spacingAndGlyphs">secured in</text>
<text x="1529" y="1107" font-size="30" fill="#ffffff" textLength="164" lengthAdjust="spacingAndGlyphs">12 months.”</text>
<text x="1290" y="1238" font-size="24" fill="#1a1a1a" textLength="403" lengthAdjust="spacingAndGlyphs">Identify and share the concrete results</text>
<text x="1290" y="1267" font-size="24" fill="#1a1a1a" textLength="184" lengthAdjust="spacingAndGlyphs">of your programs.</text>

<!-- Seven-second -->
<text x="1839" y="892" font-size="45" font-weight="700" fill="#111" textLength="484" lengthAdjust="spacingAndGlyphs">The Seven-Second Scan</text>
<!-- stopwatch -->
<rect x="1937" y="941" width="24" height="18" fill="#8c91a3" stroke="#3a3f55" stroke-width="2.5"/>
<rect x="1925" y="921" width="47" height="22" rx="5" fill="#a6aaba" stroke="#3a3f55" stroke-width="2.5"/>
<g transform="translate(1947,1068) rotate(-45)"><rect x="-9" y="-122" width="18" height="18" fill="#8c91a3" stroke="#3a3f55" stroke-width="2.5"/><rect x="-16" y="-136" width="32" height="16" rx="4" fill="#a6aaba" stroke="#3a3f55" stroke-width="2.5"/></g>
<g transform="translate(1947,1068) rotate(45)"><rect x="-9" y="-122" width="18" height="18" fill="#8c91a3" stroke="#3a3f55" stroke-width="2.5"/><rect x="-16" y="-136" width="32" height="16" rx="4" fill="#a6aaba" stroke="#3a3f55" stroke-width="2.5"/></g>
<circle cx="1947" cy="1068" r="106" fill="#b7bbcb" stroke="#3a3f55" stroke-width="3"/>
<circle cx="1947" cy="1068" r="96" fill="#d9dce6"/>
<circle cx="1947" cy="1068" r="86" fill="url(#watch)" stroke="#3a3f55" stroke-width="3"/>
<path d="M1947,984 A84,84 0 0 1 1991,996 L1968,1030 L1947,1030 Z" fill="url(#wedge)"/>
<g stroke="#3a3f55" stroke-width="3" stroke-linecap="round">
<line x1="1947" y1="986" x2="1947" y2="996"/>
<line x1="1888" y1="1068" x2="1898" y2="1068"/>
<line x1="1996" y1="1068" x2="2006" y2="1068"/>
<line x1="1947" y1="1140" x2="1947" y2="1150"/>
<line x1="1906" y1="997" x2="1911" y2="1006"/>
<line x1="1876" y1="1027" x2="1885" y2="1032"/>
<line x1="2009" y1="1032" x2="2018" y2="1027"/>
<line x1="1876" y1="1109" x2="1885" y2="1104"/>
<line x1="1906" y1="1139" x2="1911" y2="1130"/>
</g>
<text x="1948" y="1103" font-size="104" font-weight="700" fill="#1f2440" text-anchor="middle">7</text>
<!-- man right -->
<path d="M2205,1126 Q2230,1108 2270,1106 Q2312,1108 2336,1126 L2348,1232 L2198,1232 Z" fill="url(#shirtR)" stroke="#2f3450" stroke-width="2.5"/>
<rect x="2190" y="1180" width="170" height="56" fill="url(#fadeW)"/>
<path d="M2214,1132 L2156,1164 L2166,1186 L2226,1162 Z" fill="url(#shirtR)" stroke="#2f3450" stroke-width="2.5"/>
<rect x="2260" y="1094" width="22" height="18" fill="#b97f58"/>
<ellipse cx="2272" cy="1062" rx="31" ry="40" fill="#c58b63" stroke="#2f3450" stroke-width="2.5"/>
<path d="M2242,1064 Q2234,1016 2274,1016 Q2310,1018 2304,1062 Q2300,1044 2290,1040 Q2272,1046 2254,1040 Q2246,1048 2242,1064 Z" fill="#2e3556" stroke="#2f3450" stroke-width="2"/>
<path d="M2256,1074 Q2272,1094 2290,1074 Z" fill="#ffffff" stroke="#2f3450" stroke-width="2"/>
<circle cx="2262" cy="1058" r="2.5" fill="#2f3450"/><circle cx="2286" cy="1058" r="2.5" fill="#2f3450"/>
<rect x="2242" y="1136" width="28" height="32" rx="8" fill="#c58b63" stroke="#2f3450" stroke-width="2.5"/>
<rect x="2249" y="1114" width="10" height="26" rx="5" fill="#c58b63" stroke="#2f3450" stroke-width="2.5"/>
<!-- donate pill -->
<rect x="1953" y="1107" width="231" height="52" rx="26" fill="#ffffff" stroke="#3a3f55" stroke-width="3"/>
<text x="1973" y="1143" font-size="24" font-weight="700" fill="#2a2d40" textLength="152" lengthAdjust="spacingAndGlyphs">DONATE NOW</text>
<circle cx="2154" cy="1133" r="16" fill="#f2853d"/>
<polyline points="2146,1133 2152,1139 2162,1127" fill="none" stroke="#ffffff" stroke-width="3.5" stroke-linecap="round" stroke-linejoin="round"/>
<ellipse cx="2150" cy="1170" rx="16" ry="12" fill="#c58b63" stroke="#2f3450" stroke-width="2.5"/>
<text x="1841" y="1239" font-size="24" fill="#1a1a1a" textLength="361" lengthAdjust="spacingAndGlyphs">If a stranger can’t understand your</text>
<text x="1841" y="1268" font-size="24" fill="#1a1a1a" textLength="449" lengthAdjust="spacingAndGlyphs">call-to-action in seven seconds, simplify it.</text>

<!-- NotebookLM -->
<g fill="none" stroke="#222" stroke-width="3">
<path d="M2227,1332 L2227,1324 A10,10 0 0 1 2247,1324 L2247,1332"/>
<path d="M2233,1332 L2233,1326 A4,4 0 0 1 2241,1326 L2241,1332"/>
</g>
<text x="2255" y="1331" font-size="21" fill="#222" textLength="137" lengthAdjust="spacingAndGlyphs">NotebookLM</text>
</svg>
</body></html>
